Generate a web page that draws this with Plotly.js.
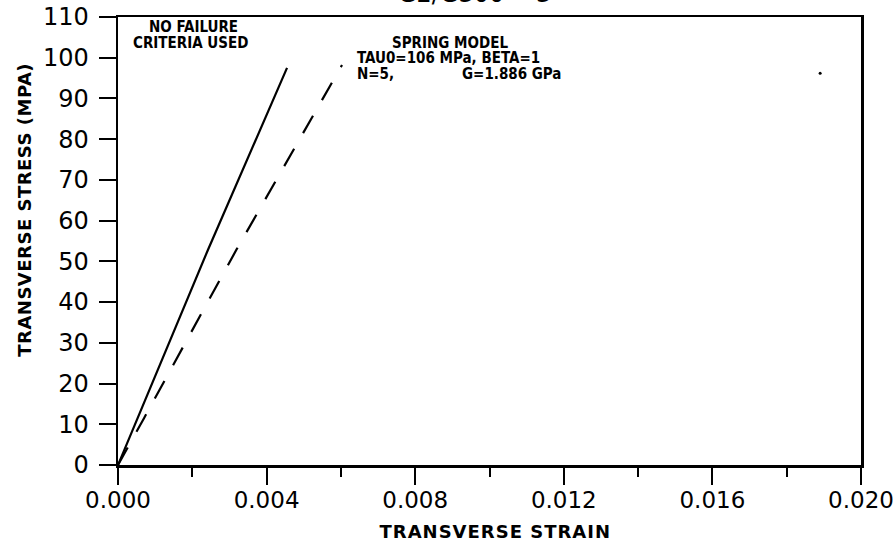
<!DOCTYPE html>
<html>
<head>
<meta charset="utf-8">
<script src="https://cdn.plot.ly/plotly-3.0.1.min.js"></script>
<style>
  html, body { margin: 0; padding: 0; background: #fff; }
  #chart { width: 894px; height: 543px; }
  /* widely spaced lettering for the two axis titles */
  #chart g.annotation[data-index="1"] text { letter-spacing: 1px; }
  #chart g.annotation[data-index="2"] text { letter-spacing: 0.5px; }
</style>
</head>
<body>
<div id="chart"></div>
<script>
// Transverse stress-strain response, no failure criteria
const noFailureStrain = [0, 0.00242, 0.00455];
const noFailureStress = [0, 52.8, 97.5];

// Spring model prediction (TAU0=106 MPa, BETA=1, N=5, G=1.886 GPa)
const springStrain = [0, 0.0007, 0.00319, 0.00603];
const springStress = [0, 11.5, 52.9, 98.2];

// Isolated point near the upper right of the frame
const dotStrain = [0.0189];
const dotStress = [96.2];

const xTicks = [0, 0.004, 0.008, 0.012, 0.016, 0.020];
const xTickText = ['0.000', '0.004', '0.008', '0.012', '0.016', '0.020'];
const yTicks = [0, 10, 20, 30, 40, 50, 60, 70, 80, 90, 100, 110];

const xTickFont = { family: 'DejaVu Sans', size: 23, color: '#000' };
const yTickFont = { family: 'DejaVu Sans', size: 24, color: '#000' };
const labelFont = { family: 'DejaVu Sans Condensed', size: 15, color: '#000', weight: 'bold' };
const titleFont = { family: 'DejaVu Sans', size: 18, color: '#000', weight: 'bold' };

const traces = [
  {
    x: noFailureStrain, y: noFailureStress,
    mode: 'lines', line: { color: '#000', width: 2.2 },
    hoverinfo: 'skip', showlegend: false
  },
  {
    x: springStrain, y: springStress,
    mode: 'lines', line: { color: '#000', width: 2.2, dash: '20px,18px' },
    hoverinfo: 'skip', showlegend: false
  },
  {
    x: dotStrain, y: dotStress,
    mode: 'markers', marker: { color: '#000', size: 3 },
    hoverinfo: 'skip', showlegend: false
  }
];

const layout = {
  width: 894, height: 543,
  margin: { l: 118, r: 33, t: 17, b: 78 },
  paper_bgcolor: '#fff', plot_bgcolor: '#fff',
  showlegend: false,
  xaxis: {
    range: [0, 0.020],
    tickvals: xTicks, ticktext: xTickText,
    ticks: 'outside', ticklen: 17, tickwidth: 2, tickcolor: '#000',
    ticklabelstandoff: -4,
    minor: { dtick: 0.002, ticks: 'outside', ticklen: 9, tickwidth: 2, tickcolor: '#000', showgrid: false },
    showline: true, linecolor: '#000', linewidth: 2.5, mirror: true,
    showgrid: false, zeroline: false,
    tickfont: xTickFont
  },
  yaxis: {
    range: [0, 110],
    tickvals: yTicks,
    ticks: 'outside', ticklen: 17, tickwidth: 2, tickcolor: '#000',
    ticklabelstandoff: 5,
    showline: true, linecolor: '#000', linewidth: 2.5, mirror: true,
    showgrid: false, zeroline: false,
    tickfont: yTickFont
  },
  annotations: [
    { text: 'G2/G300 -  3', xref: 'paper', yref: 'paper', x: 0.48, y: 1.0, yshift: 7,
      yanchor: 'bottom', xanchor: 'center', showarrow: false,
      font: { family: 'DejaVu Sans', size: 24, color: '#000' } },
    { text: 'TRANSVERSE STRAIN', xref: 'paper', yref: 'paper', x: 0.5, xshift: 6, y: 0, yshift: -66,
      xanchor: 'center', yanchor: 'middle', showarrow: false, font: titleFont },
    { text: 'TRANSVERSE STRESS (MPA)', xref: 'paper', yref: 'paper', x: 0, xshift: -94, y: 0.5, yshift: 31,
      xanchor: 'center', yanchor: 'middle', textangle: -90, showarrow: false, font: titleFont },
    { text: 'NO FAILURE', xref: 'x', yref: 'y', x: 0.00202, y: 107.5,
      xanchor: 'center', yanchor: 'middle', showarrow: false, font: labelFont },
    { text: 'CRITERIA USED', xref: 'x', yref: 'y', x: 0.00194, y: 103.6,
      xanchor: 'center', yanchor: 'middle', showarrow: false, font: labelFont },
    { text: 'SPRING MODEL', xref: 'x', yref: 'y', x: 0.00893, y: 103.6,
      xanchor: 'center', yanchor: 'middle', showarrow: false, font: labelFont },
    { text: 'TAU0=106 MPa, BETA=1', xref: 'x', yref: 'y', x: 0.00638, y: 99.9,
      xanchor: 'left', yanchor: 'middle', showarrow: false, font: labelFont },
    { text: 'N=5,', xref: 'x', yref: 'y', x: 0.00638, y: 96,
      xanchor: 'left', yanchor: 'middle', showarrow: false, font: labelFont },
    { text: 'G=1.886 GPa', xref: 'x', yref: 'y', x: 0.00920, y: 96,
      xanchor: 'left', yanchor: 'middle', showarrow: false, font: labelFont }
  ]
};

Plotly.newPlot('chart', traces, layout, { displayModeBar: false, staticPlot: true });
</script>
</body>
</html>
